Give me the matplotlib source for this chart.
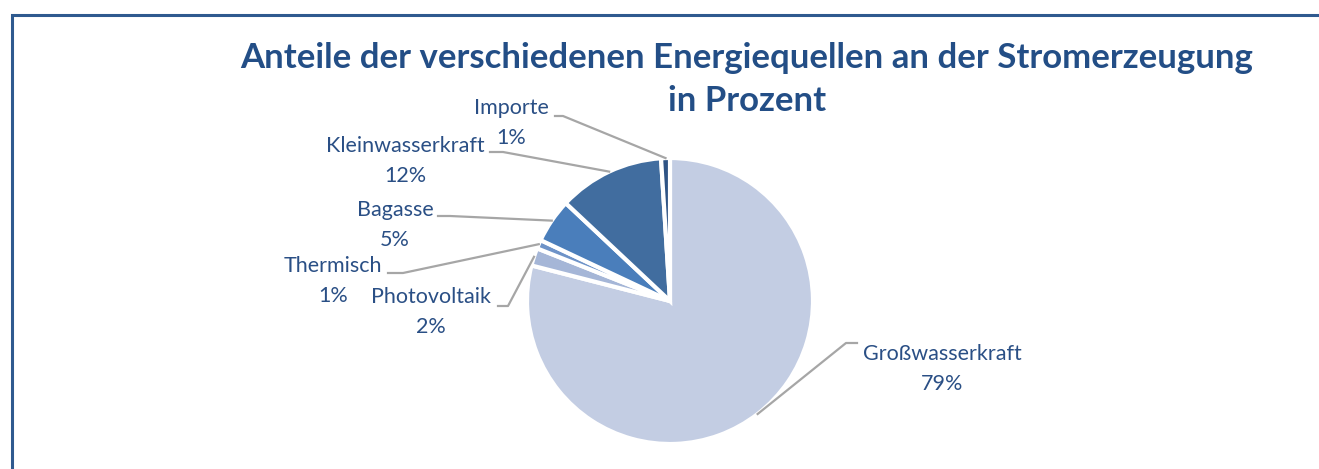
import matplotlib
matplotlib.use("Agg")
import matplotlib.pyplot as plt
import numpy as np

# ---- data ----
categories = ["Großwasserkraft", "Photovoltaik", "Thermisch", "Bagasse", "Kleinwasserkraft", "Importe"]
values = [79, 2, 1, 5, 12, 1]
colors = ["#C3CDE3", "#A5B6D7", "#6E93C8", "#4A7EBB", "#416D9F", "#2F5485"]
title_lines = ["Anteile der verschiedenen Energiequellen an der Stromerzeugung", "in Prozent"]

# label block centres (pixel coords, y from top) and leader text-side points
label_pos = {
    "Großwasserkraft": (942, 369),
    "Photovoltaik": (431, 312),
    "Thermisch": (333, 281),
    "Bagasse": (395, 225),
    "Kleinwasserkraft": (405, 161),
    "Importe": (511, 123),
}
leader_start = {
    "Großwasserkraft": ((857, 343), (846, 343)),
    "Photovoltaik": ((498, 306), (508, 306)),
    "Thermisch": ((388, 273), (403, 273)),
    "Bagasse": ((438, 216), (450, 216)),
    "Kleinwasserkraft": ((490, 152), (503, 152)),
    "Importe": ((555, 116), (563, 116)),
}

W, H = 1319, 469
fig = plt.figure(figsize=(W / 100, H / 100), dpi=100)
ax = fig.add_axes([0, 0, 1, 1])
ax.set_xlim(0, W)
ax.set_ylim(0, H)
ax.set_aspect("equal")
ax.axis("off")

# chart border (left and top edges visible in the crop)
ax.plot([12, 12, W + 20], [-20, H - 15, H - 15], color="#2F5A8F", lw=2.2,
        solid_joinstyle="miter", zorder=0)

cx, cy, r = 670, H - 301, 143
wedges, _ = ax.pie(values, colors=colors, startangle=90, counterclock=False,
                   center=(cx, cy), radius=r, frame=True,
                   wedgeprops=dict(edgecolor="white", linewidth=3))
ax.set_xlim(0, W)
ax.set_ylim(0, H)
ax.axis("off")

label_color = "#2A4F85"
font = "Lato"
for w, cat, val in zip(wedges, categories, values):
    mid = np.deg2rad((w.theta1 + w.theta2) / 2)
    ax_pt = (cx + r * np.cos(mid), cy + r * np.sin(mid))
    (x0, y0), (x1, y1) = leader_start[cat]
    ax.plot([x0, x1, ax_pt[0]], [H - y0, H - y1, ax_pt[1]], color="#A6A6A6", lw=1.6, zorder=3)
    lx, ly = label_pos[cat]
    ax.text(lx, H - ly, f"{cat}\n{val}%", ha="center", va="center", color=label_color,
            fontsize=15.5, family=font, linespacing=1.62)

for line, ty in zip(title_lines, (58, 101)):
    ax.text(747, H - ty, line, ha="center", va="center", color="#234E86",
            fontsize=25, fontweight="bold", family=font)

fig.savefig("out.png", dpi=100)
